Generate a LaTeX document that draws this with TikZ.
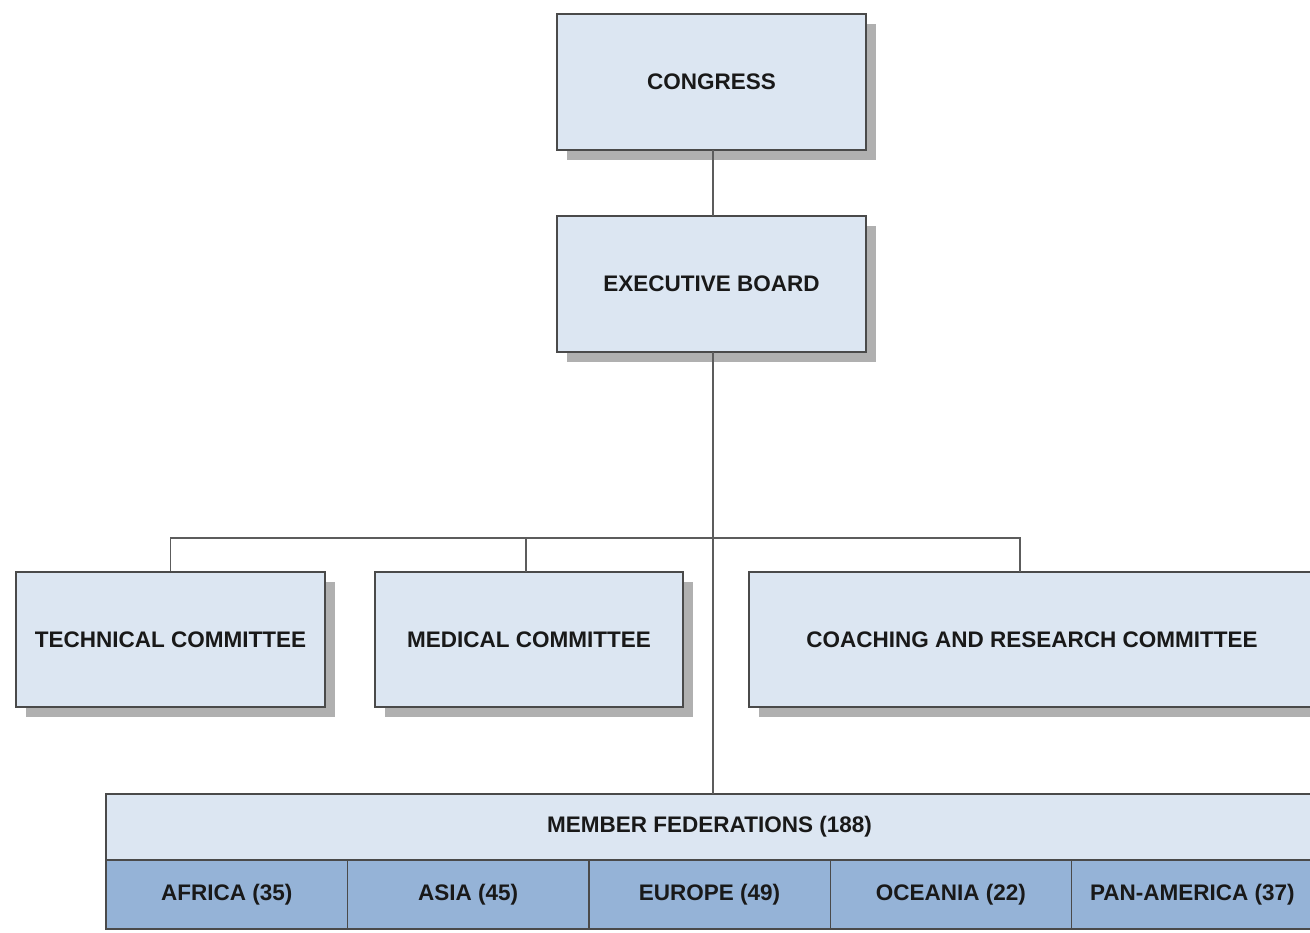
\documentclass[tikz,border=0pt]{standalone}
\usepackage{fontspec}
\setmainfont{Liberation Sans}
\usetikzlibrary{shadows}
\definecolor{boxfill}{HTML}{DCE6F2}
\definecolor{regfill}{HTML}{95B3D7}
\definecolor{edge}{HTML}{4A4A4A}
\definecolor{shad}{HTML}{B0B0B0}
\tikzset{
  orgbox/.style={draw=edge, line width=1.6pt, fill=boxfill, inner sep=0pt,
    font=\fontsize{22.5}{26}\selectfont\bfseries, text=black!90,
    drop shadow={shadow xshift=10pt, shadow yshift=-10pt, fill=shad, opacity=1}},
  cell/.style={draw=edge, line width=1.4pt, inner sep=0pt,
    font=\fontsize{22.5}{26}\selectfont\bfseries, text=black!90},
  link/.style={draw=edge!90, line width=1.5pt}
}
\begin{document}
\begin{tikzpicture}[x=1pt,y=-1pt]
\useasboundingbox (0,0) rectangle (1310,933);
\clip (0,0) rectangle (1310,933);
\node[orgbox, minimum width=309, minimum height=136] (congress) at (711.5,82) {CONGRESS};
\node[orgbox, minimum width=309, minimum height=136] (exec) at (711.5,284) {EXECUTIVE BOARD};
\node[orgbox, minimum width=309, minimum height=135] (tech) at (170.5,639.5) {TECHNICAL COMMITTEE};
\node[orgbox, minimum width=308, minimum height=135] (med) at (529,639.5) {MEDICAL COMMITTEE};
\node[orgbox, minimum width=566, minimum height=135] (coach) at (1032,639.5) {COACHING AND RESEARCH COMMITTEE};
\node[cell, fill=boxfill, minimum width=1207, minimum height=66] (members) at (709.5,827) {MEMBER FEDERATIONS (188)};
\node[cell, fill=regfill, minimum width=241.4, minimum height=69] (africa) at (226.7,894.5) {AFRICA (35)};
\node[cell, fill=regfill, minimum width=241.4, minimum height=69] (asia) at (468.1,894.5) {ASIA (45)};
\node[cell, fill=regfill, minimum width=241.4, minimum height=69] (europe) at (709.5,894.5) {EUROPE (49)};
\node[cell, fill=regfill, minimum width=241.4, minimum height=69] (oceania) at (950.9,894.5) {OCEANIA (22)};
\node[cell, fill=regfill, minimum width=241.4, minimum height=69] (panam) at (1192.3,894.5) {PAN-AMERICA (37)};
\coordinate (congbot) at (713,150);
\coordinate (exectop) at (713,216);
\coordinate (execbot) at (713,352);
\coordinate (busL) at (170.5,538);
\coordinate (busM) at (526,538);
\coordinate (busR) at (1020,538);
\coordinate (medtop) at (526,572);
\coordinate (coachtop) at (1020,572);
\coordinate (memtop) at (713,794);
\draw[link] (congbot) -- (exectop);
\draw[link] (execbot) -- (memtop);
\draw[link] (tech.north) -- (busL) -- (busR) -- (coachtop);
\draw[link] (busM) -- (medtop);
\end{tikzpicture}
\end{document}
